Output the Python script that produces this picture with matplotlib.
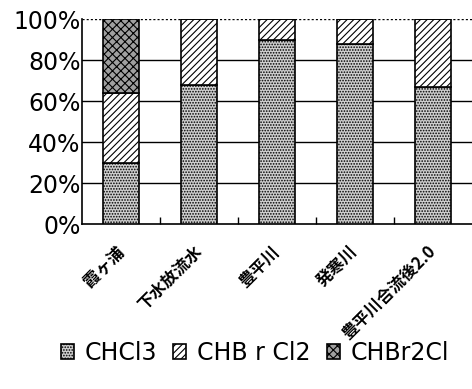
import matplotlib
matplotlib.use("Agg")
import matplotlib.pyplot as plt
import numpy as np

plt.rcParams['font.family'] = ['DejaVu Sans', 'Noto Sans CJK JP']
plt.rcParams['hatch.linewidth'] = 0.8

# sampling sites and composition of trihalomethanes (%)
sites = ["霞ヶ浦", "下水放流水", "豊平川", "発寒川", "豊平川合流後2.0"]
chcl3 = [30, 68, 90, 88, 67]
chbrcl2 = [34, 32, 10, 12, 33]
chbr2cl = [36, 0, 0, 0, 0]
series_names = ["CHCl3", "CHB r Cl2", "CHBr2Cl"]

fig = plt.figure(figsize=(4.72, 3.89), dpi=100)
ax = fig.add_axes([0.174, 0.424, 0.826, 0.527])

x = np.arange(len(sites))
w = 0.47
b1 = np.array(chcl3)
b2 = b1 + np.array(chbrcl2)

ax.bar(x, chcl3, w, color="#cfcfcf", edgecolor="black", hatch="......",
       linewidth=1.2, label=series_names[0], zorder=3)
ax.bar(x, chbrcl2, w, bottom=b1, color="white", edgecolor="black",
       hatch="/////", linewidth=1.2, label=series_names[1], zorder=3)
ax.bar(x, chbr2cl, w, bottom=b2, color="#a0a0a0", edgecolor="black",
       hatch="xxxx", linewidth=1.2, label=series_names[2], zorder=3)

# horizontal grid: solid inside, dotted at the top
for v in [20, 40, 60, 80]:
    ax.axhline(v, color="black", lw=1.0, zorder=1)
ax.axhline(100, color="black", lw=1.0, ls=(0, (1.5, 1.5)), zorder=1)

ax.set_xlim(-0.5, len(sites) - 0.5)
ax.set_ylim(0, 100)
ax.set_yticks([0, 20, 40, 60, 80, 100])
ax.set_yticklabels(["0%", "20%", "40%", "60%", "80%", "100%"], fontsize=17)
ax.tick_params(axis="y", length=0, pad=1)

ax.set_xticks(x)
ax.set_xticklabels([])
ax.tick_params(axis="x", length=0)
ax.set_xticks(x[:-1] + 0.5, minor=True)
ax.tick_params(axis="x", which="minor", direction="in", length=5, width=1)

for s in ["top", "right"]:
    ax.spines[s].set_visible(False)
for s in ["left", "bottom"]:
    ax.spines[s].set_linewidth(1.2)

for i, name in enumerate(sites):
    ax.text(i - 0.08, -0.09, name, transform=ax.get_xaxis_transform(),
            rotation=45, ha="right", va="top", rotation_mode="anchor",
            fontsize=12, family=['Noto Sans CJK JP', 'DejaVu Sans'],
            fontweight="bold")

fig.legend(loc="center", bbox_to_anchor=(0.54, 0.093), ncol=3,
           frameon=False, fontsize=17, handlelength=0.55, handleheight=0.55,
           handletextpad=0.45, columnspacing=0.7, borderaxespad=0)

fig.savefig("out.png", dpi=100)
